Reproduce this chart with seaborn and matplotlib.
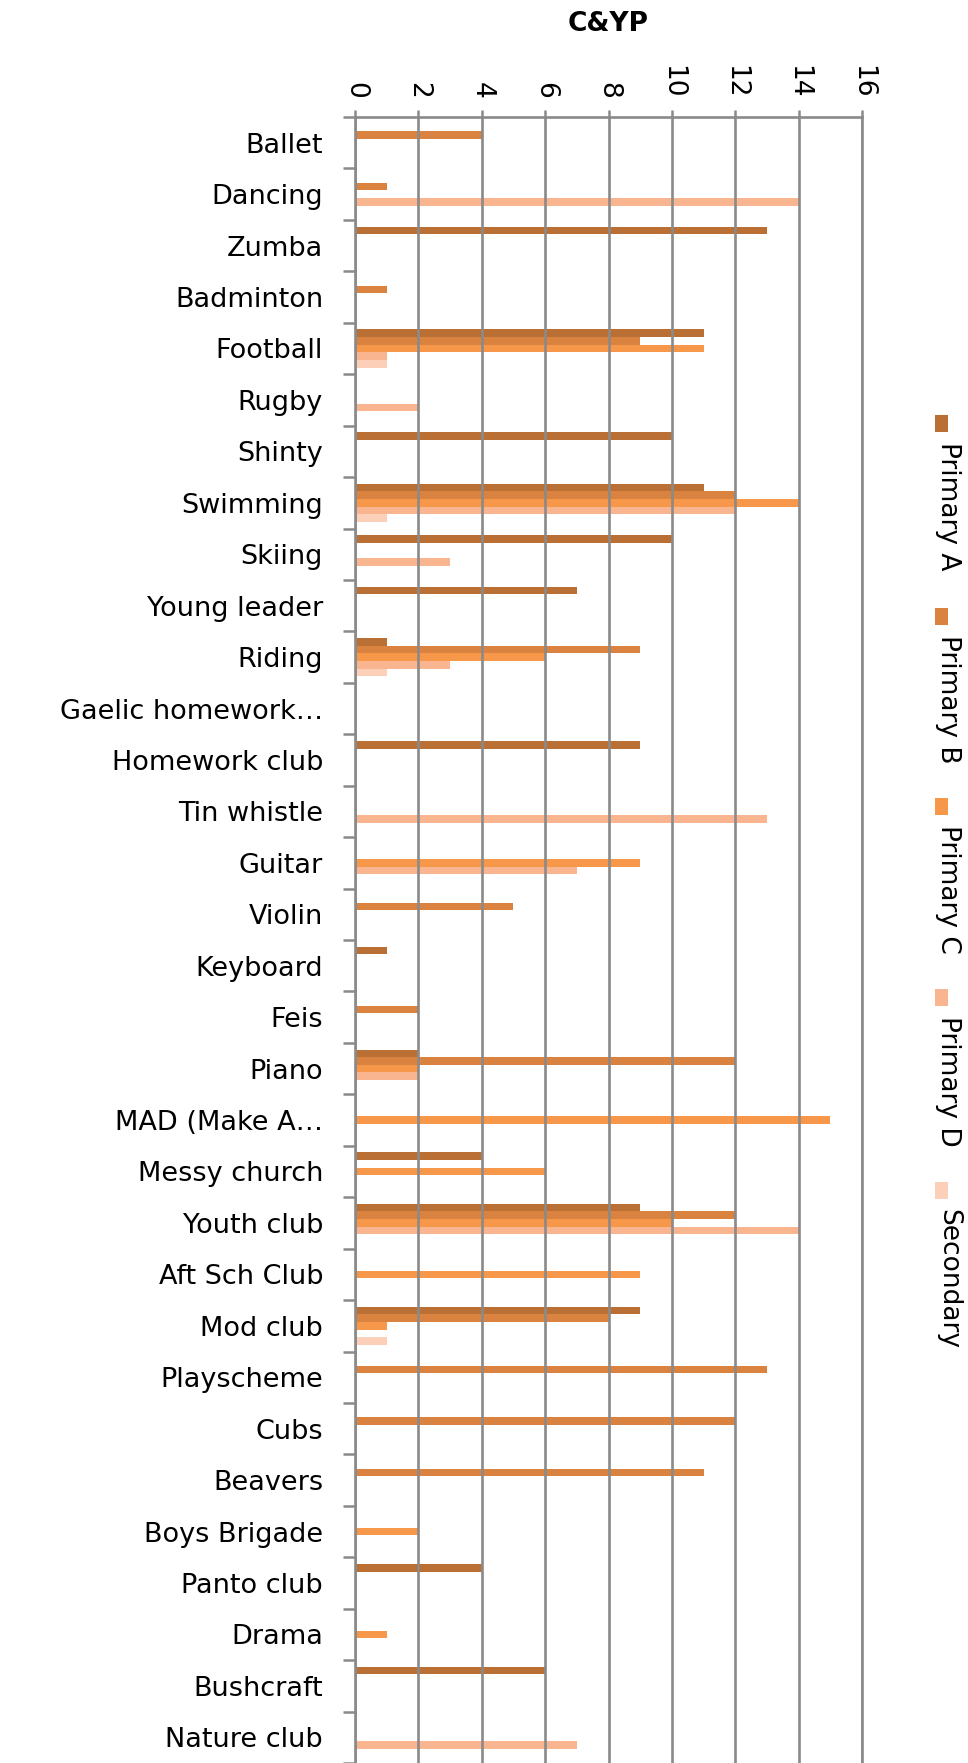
import numpy as np
import pandas as pd
import matplotlib
matplotlib.use("Agg")
import matplotlib.pyplot as plt
import seaborn as sns
from matplotlib.patches import Rectangle

activities = ["Ballet", "Dancing", "Zumba", "Badminton", "Football", "Rugby", "Shinty",
              "Swimming", "Skiing", "Young leader", "Riding", "Gaelic homework\u2026",
              "Homework club", "Tin whistle", "Guitar", "Violin", "Keyboard", "Feis",
              "Piano", "MAD (Make A\u2026", "Messy church", "Youth club", "Aft Sch Club",
              "Mod club", "Playscheme", "Cubs", "Beavers", "Boys Brigade", "Panto club",
              "Drama", "Bushcraft", "Nature club"]

groups = ["Primary A", "Primary B", "Primary C", "Primary D", "Secondary"]

primary_a = [0, 0, 13, 0, 11, 0, 10, 11, 10, 7, 1, 0, 9, 0, 0, 0,
             1, 0, 2, 0, 4, 9, 0, 9, 0, 0, 0, 0, 4, 0, 6, 0]
primary_b = [4, 1, 0, 1, 9, 0, 0, 12, 0, 0, 9, 0, 0, 0, 0, 5,
             0, 2, 12, 0, 0, 12, 0, 8, 13, 12, 11, 0, 0, 0, 0, 0]
primary_c = [0, 0, 0, 0, 11, 0, 0, 14, 0, 0, 6, 0, 0, 0, 9, 0,
             0, 0, 2, 15, 6, 10, 9, 1, 0, 0, 0, 2, 0, 1, 0, 0]
primary_d = [0, 14, 0, 0, 1, 2, 0, 12, 3, 0, 3, 0, 0, 13, 7, 0,
             0, 0, 2, 0, 0, 14, 0, 0, 0, 0, 0, 0, 0, 0, 0, 7]
secondary = [0, 0, 0, 0, 1, 0, 0, 1, 0, 0, 1, 0, 0, 0, 0, 0,
             0, 0, 0, 0, 0, 0, 0, 1, 0, 0, 0, 0, 0, 0, 0, 0]

colors = ["#BA7035", "#DA823F", "#F7974A", "#F9B58F", "#FCCFB9"]

rows = []
for g, vals in zip(groups, [primary_a, primary_b, primary_c, primary_d, secondary]):
    for a, v in zip(activities, vals):
        rows.append({"activity": a, "group": g, "count": v})
df = pd.DataFrame(rows)

sns.set_style("white")
plt.rcParams['font.family'] = ['DejaVu Sans']
plt.rcParams['text.color'] = 'black'

grey = "#8A8A8A"
fig = plt.figure(figsize=(9.68, 17.63), dpi=100)
ax = fig.add_axes([355 / 968, 0.0, (862 - 355) / 968, 1 - 117 / 1763])

sns.barplot(data=df, x="count", y="activity", hue="group", hue_order=groups,
            palette=colors, saturation=1, orient="h", width=0.74, dodge=True,
            linewidth=0, legend=False, ax=ax)

ax.set_xlim(0, 16)
ax.set_ylim(len(activities) - 0.5, -0.5)
ax.set_xticks(np.arange(0, 17, 2))
ax.xaxis.tick_top()
ax.tick_params(axis="x", which="major", direction="out", length=5, width=1.8,
               color=grey, labelsize=19, pad=8, labelrotation=-90,
               labelcolor="black")
ax.set_yticks(np.arange(-0.5, len(activities), 1), minor=True)
ax.tick_params(axis="y", which="minor", direction="out", length=8.5, width=1.8,
               color=grey, left=True)
ax.tick_params(axis="y", which="major", length=0, labelsize=19.5, pad=23,
               labelcolor="black")
ax.set_xlabel("")
ax.set_ylabel("")

ax.set_axisbelow(False)
ax.grid(axis="x", color=grey, linewidth=1.9)
ax.grid(axis="y", visible=False)
for side in ["top", "left", "right"]:
    ax.spines[side].set_visible(True)
    ax.spines[side].set_color(grey)
    ax.spines[side].set_linewidth(1.9)
ax.spines["bottom"].set_visible(False)

ax.set_title("C&YP", fontweight="bold", fontsize=19, y=1.052, pad=0, color="black")

# legend drawn turned on its side, like the original
legend_y = [415, 608, 798, 989, 1182]
for g, c, ly in zip(groups, colors, legend_y):
    fig.add_artist(Rectangle((935 / 968, 1 - (ly + 17) / 1763), 13 / 968, 17 / 1763,
                             transform=fig.transFigure, color=c, lw=0))
    fig.text(948 / 968, 1 - (ly + 27) / 1763, g, rotation=-90, fontsize=19,
             ha="center", va="top", color="black")

fig.savefig("out.png", dpi=100)
